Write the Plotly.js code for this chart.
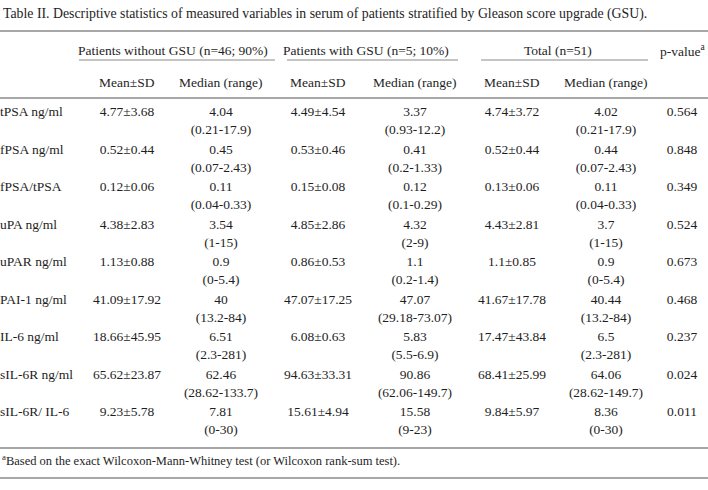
<!DOCTYPE html>
<html>
<head>
<meta charset="utf-8">
<script src="https://cdn.plot.ly/plotly-3.0.1.min.js"></script>
<style>
  body { margin: 0; background: #fff; }
  #tableDiv { width: 708px; height: 490px; }
</style>
</head>
<body>
<div id="tableDiv"></div>
<script>
var variables = ['tPSA ng/ml', 'fPSA ng/ml', 'fPSA/tPSA', 'uPA ng/ml', 'uPAR ng/ml',
  'PAI-1 ng/ml', 'IL-6 ng/ml', 'sIL-6R ng/ml', 'sIL-6R/ IL-6'];

// patients without GSU
var noMean = [4.77, 0.52, 0.12, 4.38, 1.13, 41.09, 18.66, 65.62, 9.23];
var noSd = [3.68, 0.44, 0.06, 2.83, 0.88, 17.92, 45.95, 23.87, 5.78];
var noMedian = [4.04, 0.45, 0.11, 3.54, 0.9, 40, 6.51, 62.46, 7.81];
var noLow = [0.21, 0.07, 0.04, 1, 0, 13.2, 2.3, 28.62, 0];
var noHigh = [17.9, 2.43, 0.33, 15, 5.4, 84, 281, 133.7, 30];

// patients with GSU
var gsuMean = [4.49, 0.53, 0.15, 4.85, 0.86, 47.07, 6.08, 94.63, 15.61];
var gsuSd = [4.54, 0.46, 0.08, 2.86, 0.53, 17.25, 0.63, 33.31, 4.94];
var gsuMedian = [3.37, 0.41, 0.12, 4.32, 1.1, 47.07, 5.83, 90.86, 15.58];
var gsuLow = [0.93, 0.2, 0.1, 2, 0.2, 29.18, 5.5, 62.06, 9];
var gsuHigh = [12.2, 1.33, 0.29, 9, 1.4, 73.07, 6.9, 149.7, 23];

// total
var totMean = [4.74, 0.52, 0.13, 4.43, 1.1, 41.67, 17.47, 68.41, 9.84];
var totSd = [3.72, 0.44, 0.06, 2.81, 0.85, 17.78, 43.84, 25.99, 5.97];
var totMedian = [4.02, 0.44, 0.11, 3.7, 0.9, 40.44, 6.5, 64.06, 8.36];
var totLow = [0.21, 0.07, 0.04, 1, 0, 13.2, 2.3, 28.62, 0];
var totHigh = [17.9, 2.43, 0.33, 15, 5.4, 84, 281, 149.7, 30];

var pValues = [0.564, 0.848, 0.349, 0.524, 0.673, 0.468, 0.237, 0.024, 0.011];

var groupNames = ['Patients without GSU (n=46; 90%)', 'Patients with GSU (n=5; 10%)', 'Total (n=51)'];
var subHeads = ['Mean±SD', 'Median (range)'];

var titleText = 'Table II. Descriptive statistics of measured variables in serum of patients stratified by Gleason score upgrade (GSU).';
var footText = '<sup>a</sup>Based on the exact Wilcoxon-Mann-Whitney test (or Wilcoxon rank-sum test).';

//-------------------------------------
// layout (pixel units on hidden axes)
var fam = 'Liberation Serif, Times New Roman, serif';
var font = {family: fam, size: 13.5, color: '#1e1e1e'};
var colMean = [127, 318, 512];
var colMedian = [221, 415, 606];
var colP = 682;
var firstRow = 113, rowStep = 37.5, subLine = 18;
var rowY = variables.map((v, i) => firstRow + rowStep * i);

var means = [[noMean, noSd], [gsuMean, gsuSd], [totMean, totSd]];
var medians = [[noMedian, noLow, noHigh], [gsuMedian, gsuLow, gsuHigh], [totMedian, totLow, totHigh]];

function textTrace(x, y, text, pos) {
  return {
    type: 'scatter', mode: 'text', x: x, y: y, text: text,
    textposition: pos || 'middle center', textfont: font,
    hoverinfo: 'skip', showlegend: false, cliponaxis: false
  };
}

var data = [];
data.push(textTrace(rowY.map(() => 0), rowY, variables, 'middle right'));
means.forEach((g, k) => {
  data.push(textTrace(rowY.map(() => colMean[k]), rowY,
    g[0].map((m, i) => m + '±' + g[1][i])));
});
medians.forEach((g, k) => {
  data.push(textTrace(rowY.map(() => colMedian[k]), rowY, g[0].map(String)));
  data.push(textTrace(rowY.map(() => colMedian[k]), rowY.map(y => y + subLine),
    g[1].map((lo, i) => '(' + lo + '-' + g[2][i] + ')')));
});
data.push(textTrace(rowY.map(() => colP), rowY, pValues.map(String)));

var annotations = [
  {x: 1, y: 14, text: titleText, xanchor: 'left', size: 13.8},
  {x: 0, y: 460, text: footText, xanchor: 'left', size: 12.5},
  {x: 707, y: 50, text: 'p-value<sup>a</sup>', xanchor: 'right'}
];
groupNames.forEach((g, k) => {
  annotations.push({x: (colMean[k] + colMedian[k]) / 2 - 1, y: 50, text: g, xanchor: 'center'});
  subHeads.forEach((s, j) => {
    annotations.push({x: j ? colMedian[k] : colMean[k], y: 82, text: s, xanchor: 'center'});
  });
});
annotations.forEach(a => {
  a.xref = 'x'; a.yref = 'y'; a.showarrow = false; a.yanchor = 'middle';
  a.font = {family: fam, size: a.size || font.size, color: font.color};
  delete a.size;
});

var hline = (y, x0, x1, w) => ({
  type: 'line', xref: 'x', yref: 'y', x0: x0, x1: x1, y0: y, y1: y,
  line: {color: '#8a8a8a', width: w}
});
var shapes = [
  hline(31, 0, 708, 1.5),
  hline(60, 79, 275, 1),
  hline(60, 287, 458, 1),
  hline(60, 481, 648, 1),
  hline(98, 0, 708, 1.5),
  hline(448, 0, 708, 1.5),
  hline(478, 0, 708, 1.5)
];

var layout = {
  width: 708,
  height: 490,
  margin: {l: 0, r: 0, t: 0, b: 0},
  paper_bgcolor: '#fff',
  plot_bgcolor: '#fff',
  xaxis: {range: [0, 708], visible: false, fixedrange: true},
  yaxis: {range: [490, 0], visible: false, fixedrange: true},
  annotations: annotations,
  shapes: shapes,
  font: font,
  hovermode: false
};

Plotly.newPlot('tableDiv', data, layout, {displayModeBar: false, staticPlot: true});
</script>
</body>
</html>
